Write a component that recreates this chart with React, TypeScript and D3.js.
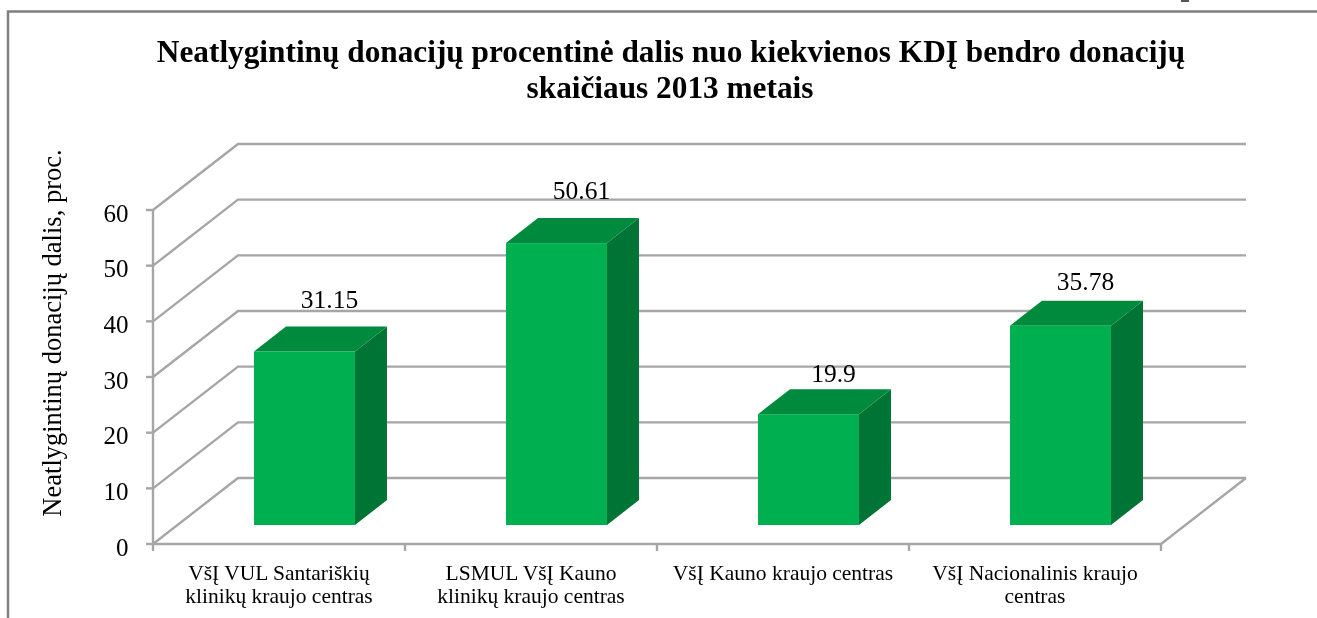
import React from "react";
import * as d3 from "d3";

const categories = [
  ["VšĮ VUL Santariškių", "klinikų kraujo centras"],
  ["LSMUL VšĮ Kauno", "klinikų kraujo centras"],
  ["VšĮ Kauno kraujo centras"],
  ["VšĮ Nacionalinis kraujo", "centras"],
];
const values = [31.15, 50.61, 19.9, 35.78];
const valueLabels = ["31.15", "50.61", "19.9", "35.78"];
const valueLabelGaps = [43, 44, 32, 36];
const yTicks = [0, 10, 20, 30, 40, 50, 60];
const titleLines = [
  "Neatlygintinų donacijų procentinė dalis nuo kiekvienos KDĮ bendro donacijų",
  "skaičiaus 2013 metais",
];
const yTitle = "Neatlygintinų donacijų dalis, proc.";

const W = 1317, H = 618;
const font = "'Liberation Serif', 'Times New Roman', serif";
const gridColor = "#a6a6a6";
const frontColor = "#00b050", sideColor = "#007434", topColor = "#008a3d";

const x = d3.scaleBand<number>().domain(d3.range(categories.length)).range([153, 1161]).paddingInner(0);
const yFront = d3.scaleLinear().domain([0, 60]).range([544, 210]);
const DEPTH_X = 85, DEPTH_Y = 66;
const yBar = d3.scaleLinear().domain([0, 60]).range([525, 190.8]);
const barW = 101, barOffset = 101, barDX = 32, barDY = 25;

export default function App() {
  return (
    <svg width={W} height={H} style={{ position: "absolute", left: 0, top: 0, background: "#fff", filter: "blur(0.4px)" }}>
      <path d={`M8,${H}V11.5H${W}`} fill="none" stroke="#808080" strokeWidth={2.5} />
      <rect x={1181} y={0} width={8} height={2} fill="#555" />

      <g fontFamily={font} fontWeight="bold" fontSize={31.3} textAnchor="middle" fill="#000">
        <text x={671} y={62}>{titleLines[0]}</text>
        <text x={670} y={98}>{titleLines[1]}</text>
      </g>

      <text
        transform="translate(61,333) rotate(-90)"
        fontFamily={font}
        fontSize={26.5}
        textAnchor="middle"
        fill="#000"
      >{yTitle}</text>

      {/* walls */}
      <g fill="none" stroke={gridColor} strokeWidth={2.4}>
        {yTicks.map((t) => (
          <path
            key={t}
            d={`M153,${yFront(t)}L${153 + DEPTH_X},${yFront(t) - DEPTH_Y}H${1161 + DEPTH_X}`}
          />
        ))}
        <path d={`M153,${yFront(60)}V${yFront(0)}H1161L${1161 + DEPTH_X},${yFront(0) - DEPTH_Y}`} />
        {yTicks.map((t) => (
          <path key={t} d={`M146,${yFront(t)}H153`} />
        ))}
        {d3.range(categories.length + 1).map((i) => {
          const px = i < categories.length ? x(i)! : 1161;
          return <path key={i} d={`M${px},${yFront(0)}V551`} />;
        })}
      </g>

      <g fontFamily={font} fontSize={25} textAnchor="end" fill="#000">
        {yTicks.map((t) => (
          <text key={t} x={128.5} y={yFront(t) + 11.5}>{t}</text>
        ))}
      </g>

      {/* bars */}
      {values.map((v, i) => {
        const x0 = x(i)! + barOffset;
        const x1 = x0 + barW;
        const yT = yBar(v), yB = yBar(0);
        return (
          <g key={i}>
            <path d={`M${x1},${yT}L${x1 + barDX},${yT - barDY}V${yB - barDY}L${x1},${yB}Z`} fill={sideColor} />
            <path d={`M${x0},${yT}L${x0 + barDX},${yT - barDY}H${x1 + barDX}L${x1},${yT}Z`} fill={topColor} />
            <rect x={x0} y={yT} width={barW} height={yB - yT} fill={frontColor} />
            <text
              x={x0 + barW / 2 + 25}
              y={yT - valueLabelGaps[i]}
              fontFamily={font}
              fontSize={25.5}
              textAnchor="middle"
              fill="#000"
            >{valueLabels[i]}</text>
          </g>
        );
      })}

      <g fontFamily={font} fontSize={21.5} textAnchor="middle" fill="#000">
        {categories.map((lines, i) =>
          lines.map((l, j) => (
            <text key={j} x={x(i)! + x.bandwidth() / 2} y={580 + j * 23}>{l}</text>
          ))
        )}
      </g>
    </svg>
  );
}
